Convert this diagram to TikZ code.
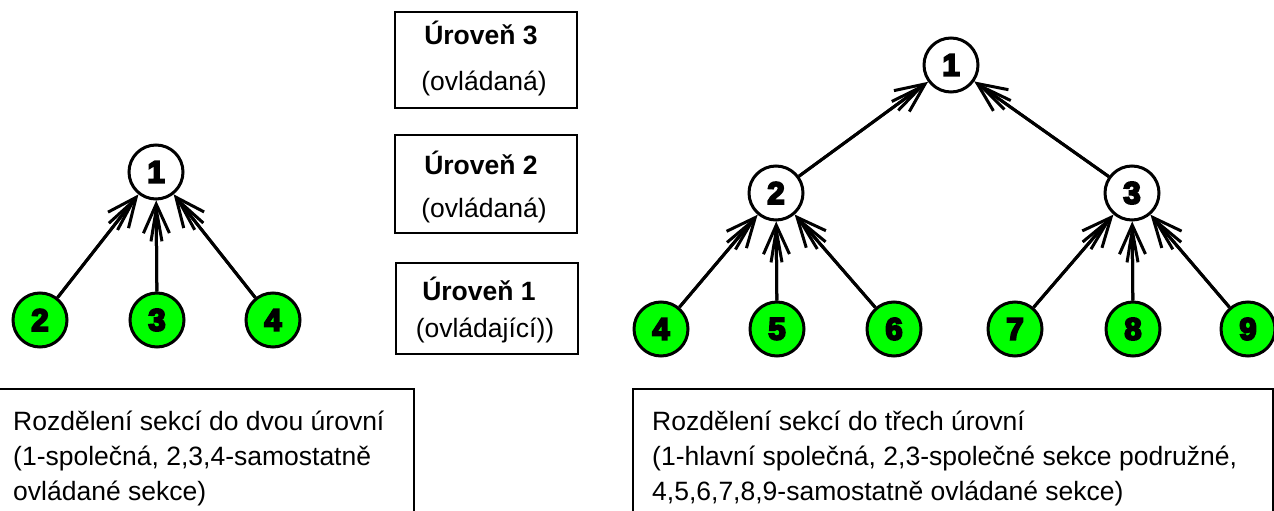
\documentclass[tikz,border=0pt]{standalone}
\usepackage{fontspec}
\setmainfont{Liberation Sans}
\newfontfamily\numfont{Liberation Sans Bold}
\usetikzlibrary{arrows.meta}
\definecolor{lgreen}{RGB}{0,255,0}
\newcommand{\heavydigit}[1]{\special{pdf:literal direct 2 Tr 2 w}#1\special{pdf:literal direct 0 Tr}}
\tikzset{
  sec/.style={circle, draw, line width=3pt, minimum size=54pt, inner sep=0pt,
    fill=white, font=\numfont\fontsize{31}{31}\selectfont},
  leaf/.style={sec, fill=lgreen},
  edge/.style={line width=3pt, -{Straight Barb[length=32pt,width=11pt,line width=3pt]},
    postaction={draw, line width=3pt, -{Straight Barb[length=29pt,width=26pt,line width=3pt]}}},
  levelbox/.style={draw, line width=2pt, minimum width=182pt, inner sep=0pt},
  infobox/.style={draw, line width=2pt, anchor=north west, inner sep=0pt},
  txt/.style={font=\fontsize{26.5}{30}\selectfont, inner sep=0pt},
  btxt/.style={font=\bfseries\fontsize{26.5}{30}\selectfont, inner sep=0pt},
}
\begin{document}
\begin{tikzpicture}[x=1pt,y=-1pt]
\useasboundingbox (0,0) rectangle (1274,511);
% level boxes
\node[levelbox, minimum height=96pt] (b3) at (486,60) {};
\node[levelbox, minimum height=98pt] (b2) at (486,184) {};
\node[levelbox, minimum height=91pt] (b1) at (486.5,308.5) {};
\node[btxt, anchor=base] (t3a) at (481,45) {Úroveň 3};
\node[txt, anchor=base] (t3b) at (484,91) {(ovládaná)};
\node[btxt, anchor=base] (t2a) at (481,174) {Úroveň 2};
\node[txt, anchor=base] (t2b) at (484,217) {(ovládaná)};
\node[btxt, anchor=base] (t1a) at (479,300) {Úroveň 1};
\node[txt, anchor=base] (t1b) at (485,337) {(ovládající))};
% info boxes
\node[infobox, minimum width=423pt, minimum height=160pt] (lbox) at (-10,388) {};
\node[infobox, minimum width=640pt, minimum height=160pt] (rbox) at (632,388) {};
\node[txt, anchor=base west] (l1) at (13,430) {Rozdělení sekcí do dvou úrovní};
\node[txt, anchor=base west] (l2) at (13,465) {(1-společná, 2,3,4-samostatně};
\node[txt, anchor=base west] (l3) at (13,500) {ovládané sekce)};
\node[txt, anchor=base west] (r1) at (652,430) {Rozdělení sekcí do třech úrovní};
\node[txt, anchor=base west] (r2) at (652,465) {(1-hlavní společná, 2,3-společné sekce podružné,};
\node[txt, anchor=base west] (r3) at (652,500) {4,5,6,7,8,9-samostatně ovládané sekce)};
% left tree
\node[sec] (A1) at (156,172) {\heavydigit{1}};
\node[leaf] (A2) at (40,320) {\heavydigit{2}};
\node[leaf] (A3) at (157,320) {\heavydigit{3}};
\node[leaf] (A4) at (273,320) {\heavydigit{4}};
\draw[edge] (A2) -- (A1);
\draw[edge] (A3) -- (A1);
\draw[edge] (A4) -- (A1);
% right tree
\node[sec] (B1) at (951,65) {\heavydigit{1}};
\node[sec] (B2) at (776,193) {\heavydigit{2}};
\node[sec] (B3) at (1132,193) {\heavydigit{3}};
\node[leaf] (B4) at (661,329) {\heavydigit{4}};
\node[leaf] (B5) at (777,329) {\heavydigit{5}};
\node[leaf] (B6) at (894,329) {\heavydigit{6}};
\node[leaf] (B7) at (1015,329) {\heavydigit{7}};
\node[leaf] (B8) at (1133,329) {\heavydigit{8}};
\node[leaf] (B9) at (1248,329) {\heavydigit{9}};
\draw[edge] (B2) -- (B1);
\draw[edge] (B3) -- (B1);
\draw[edge] (B4) -- (B2);
\draw[edge] (B5) -- (B2);
\draw[edge] (B6) -- (B2);
\draw[edge] (B7) -- (B3);
\draw[edge] (B8) -- (B3);
\draw[edge] (B9) -- (B3);
\end{tikzpicture}
\end{document}
